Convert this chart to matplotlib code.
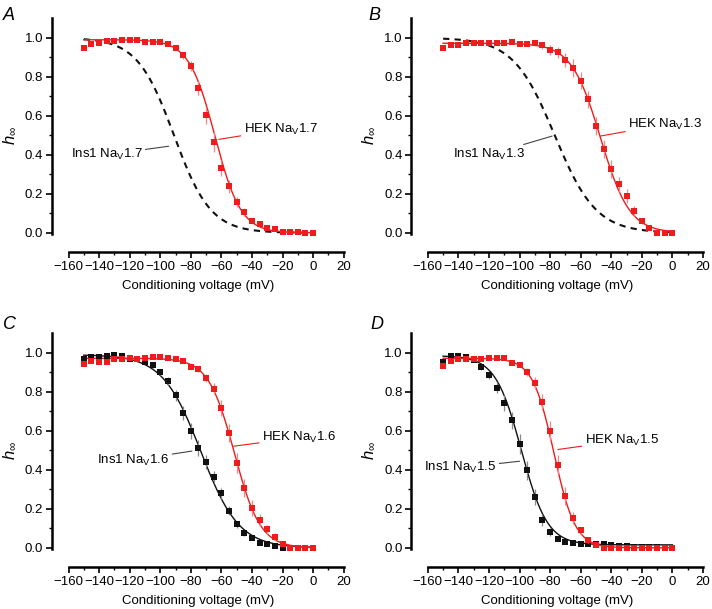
import numpy as np
import matplotlib
matplotlib.use('Agg')
import matplotlib.pyplot as plt
from matplotlib.ticker import FixedLocator

plt.rcParams['font.family'] = ['Liberation Sans', 'DejaVu Sans']
plt.rcParams['mathtext.fontset'] = 'custom'
plt.rcParams['mathtext.rm'] = 'Liberation Sans'
plt.rcParams['mathtext.it'] = 'Liberation Sans:italic'

# conditioning voltages (mV)
volts = [-150, -145, -140, -135, -130, -125, -120, -115, -110, -105, -100,
         -95, -90, -85, -80, -75, -70, -65, -60, -55, -50,
         -45, -40, -35, -30, -25, -20, -15, -10, -5, 0]

# Panel A - HEK Nav1.7
hek17 = [0.949, 0.966, 0.974, 0.983, 0.983, 0.988, 0.988, 0.991, 0.979, 0.981, 0.978,
         0.969, 0.949, 0.911, 0.856, 0.744, 0.602, 0.465, 0.333, 0.238, 0.157,
         0.106, 0.063, 0.046, 0.024, 0.017, 0.005, 0.005, 0.005, 0.0, 0.0]
hek17_err = [0.006, 0.006, 0.006, 0.005, 0.005, 0.005, 0.005, 0.005, 0.005, 0.006, 0.006,
             0.008, 0.012, 0.018, 0.025, 0.035, 0.045, 0.05, 0.04, 0.035, 0.025,
             0.02, 0.014, 0.01, 0.008, 0.006, 0.005, 0.005, 0.004, 0.004, 0.004]
# Panel B - HEK Nav1.3
hek13 = [0.949, 0.961, 0.961, 0.974, 0.974, 0.973, 0.973, 0.973, 0.973, 0.976, 0.966,
         0.966, 0.971, 0.961, 0.937, 0.926, 0.885, 0.846, 0.781, 0.684, 0.547,
         0.431, 0.328, 0.248, 0.188, 0.111, 0.060, 0.026, 0.0, 0.0, 0.0]
hek13_err = [0.012, 0.01, 0.01, 0.008, 0.008, 0.008, 0.008, 0.008, 0.008, 0.008, 0.01,
             0.01, 0.012, 0.02, 0.025, 0.028, 0.035, 0.045, 0.045, 0.045, 0.045,
             0.045, 0.045, 0.04, 0.035, 0.025, 0.015, 0.01, 0.005, 0.005, 0.005]
# Panel C - Nav1.6
hek16 = [0.944, 0.957, 0.952, 0.952, 0.969, 0.969, 0.973, 0.969, 0.974, 0.978, 0.979,
         0.973, 0.966, 0.956, 0.928, 0.915, 0.872, 0.815, 0.718, 0.590, 0.436,
         0.308, 0.205, 0.145, 0.094, 0.056, 0.022, 0.0, 0.0, 0.0, 0.0]
hek16_err = [0.01, 0.008, 0.008, 0.008, 0.006, 0.006, 0.006, 0.006, 0.006, 0.006, 0.006,
             0.008, 0.008, 0.01, 0.012, 0.015, 0.02, 0.028, 0.04, 0.045, 0.05,
             0.045, 0.04, 0.03, 0.025, 0.02, 0.012, 0.005, 0.004, 0.004, 0.004]
ins16 = [0.966, 0.979, 0.979, 0.986, 0.988, 0.983, 0.969, 0.966, 0.952, 0.935, 0.901,
         0.856, 0.783, 0.692, 0.598, 0.513, 0.439, 0.364, 0.279, 0.191, 0.120,
         0.074, 0.048, 0.026, 0.017, 0.009, 0.0, 0.0, 0.0, 0.0, 0.0]
ins16_err = [0.006, 0.006, 0.006, 0.005, 0.005, 0.006, 0.006, 0.008, 0.01, 0.012, 0.015,
             0.02, 0.028, 0.035, 0.04, 0.04, 0.035, 0.032, 0.03, 0.025, 0.018,
             0.012, 0.01, 0.008, 0.006, 0.005, 0.005, 0.004, 0.004, 0.004, 0.004]
# Panel D - Nav1.5
hek15 = [0.932, 0.957, 0.966, 0.966, 0.969, 0.969, 0.974, 0.971, 0.971, 0.949, 0.940,
         0.901, 0.846, 0.747, 0.598, 0.427, 0.265, 0.154, 0.089, 0.039, 0.012,
         0.0, 0.0, 0.0, 0.0, 0.0, 0.0, 0.0, 0.0, 0.0, 0.0]
hek15_err = [0.012, 0.01, 0.008, 0.008, 0.008, 0.006, 0.006, 0.006, 0.008, 0.01, 0.012,
             0.02, 0.03, 0.04, 0.05, 0.05, 0.045, 0.03, 0.02, 0.012, 0.008,
             0.005, 0.004, 0.004, 0.004, 0.004, 0.004, 0.004, 0.004, 0.004, 0.004]
ins15 = [0.952, 0.986, 0.986, 0.979, 0.961, 0.926, 0.884, 0.821, 0.744, 0.653, 0.533,
         0.397, 0.262, 0.142, 0.082, 0.046, 0.031, 0.026, 0.021, 0.017, 0.017,
         0.017, 0.014, 0.009, 0.009, 0.006, 0.006, 0.006, 0.004, 0.0, 0.0]
ins15_err = [0.008, 0.006, 0.006, 0.008, 0.01, 0.014, 0.02, 0.028, 0.04, 0.045, 0.05,
             0.05, 0.04, 0.03, 0.02, 0.012, 0.008, 0.006, 0.005, 0.005, 0.005,
             0.005, 0.005, 0.004, 0.004, 0.004, 0.004, 0.004, 0.004, 0.004, 0.004]

# Boltzmann fit parameters: (V1/2, k, top, bottom)
fit_hek17 = (-64.2, 8.5, 0.99, 0.0)
fit_ins17 = (-91.0, 12.0, 1.0, 0.0)
fit_hek13 = (-47.0, 9.5, 0.972, 0.0)
fit_ins13 = (-77.0, 13.5, 1.0, 0.0)
fit_hek16 = (-51.5, 8.5, 0.972, 0.0)
fit_ins16 = (-73.5, 12.5, 0.99, 0.0)
fit_hek15 = (-77.5, 7.0, 0.972, 0.0)
fit_ins15 = (-98.8, 8.5, 0.985, 0.015)


def boltz(v, p):
    vh, k, top, bot = p
    return bot + (top - bot) / (1 + np.exp((v - vh) / k))


vfit = np.linspace(-150, 0, 300)
RED = '#ee1c1c'
RED_ERR = '#f08a8a'
BLK = '#111111'
BLK_ERR = '#8a8a8a'

fig = plt.figure(figsize=(7.12, 6.09), dpi=100)
W, H = 712.0, 609.0
ax_px = [(51.7, 18.3), (411.0, 18.3), (51.7, 333.3), (411.0, 333.3)]
axes = []
for (lx, ty) in ax_px:
    ax = fig.add_axes([lx / W, 1 - (ty + 234) / H, 292 / W, 234 / H])
    axes.append(ax)


def style(ax):
    ax.set_xlim(-171, 20)
    ax.set_ylim(-0.1, 1.1)
    for s in ['top', 'right']:
        ax.spines[s].set_visible(False)
    ax.spines['left'].set_linewidth(1.8)
    ax.spines['bottom'].set_linewidth(1.8)
    ax.spines['left'].set_bounds(-0.005, 1.1)
    ax.spines['bottom'].set_bounds(-160, 20)
    ax.set_yticks([0, 0.2, 0.4, 0.6, 0.8, 1.0])
    ax.set_yticklabels(['0.0', '0.2', '0.4', '0.6', '0.8', '1.0'])
    ax.yaxis.set_minor_locator(FixedLocator([0.1, 0.3, 0.5, 0.7, 0.9]))
    ax.set_xticks(range(-160, 21, 20))
    ax.set_xticklabels(['\u2212160', '\u2212140', '\u2212120', '\u2212100', '\u221280',
                        '\u221260', '\u221240', '\u221220', '0', '20'])
    ax.xaxis.set_minor_locator(FixedLocator(range(-150, 20, 20)))
    ax.tick_params(which='major', direction='out', length=4, width=1.2, labelsize=9.5, pad=2)
    ax.tick_params(which='minor', direction='out', length=2.5, width=1.0)
    ax.set_xlabel('Conditioning voltage (mV)', fontsize=9.5, labelpad=5)
    ax.set_ylabel(r'$h_\infty$', fontsize=12, labelpad=5)
    ax.patch.set_visible(False)


def data(ax, y, err, color, ecolor, z):
    ax.errorbar(volts, y, yerr=err, fmt='s', color=color, ecolor=ecolor,
                elinewidth=0.9, capsize=2, capthick=0.9, markersize=4.3,
                markeredgewidth=0, zorder=z)


def label(ax, text, xy, xytext, color):
    ax.annotate(text, xy=xy, xytext=xytext, fontsize=9.5, color='black',
                va='center', ha='left' if xytext[0] > xy[0] else 'right',
                arrowprops=dict(arrowstyle='-', color=color, lw=0.8,
                                shrinkA=0, shrinkB=0))


# A
ax = axes[0]
style(ax)
ax.plot(vfit, boltz(vfit, fit_ins17), color=BLK, lw=1.5, ls=(0, (3, 2.5)), zorder=2)
ax.plot(vfit, boltz(vfit, fit_hek17), color=RED, lw=1.0, zorder=3)
data(ax, hek17, hek17_err, RED, RED_ERR, 4)
label(ax, r'HEK Na$_\mathregular{V}$1.7', (-61.8, 0.479), (-45.5, 0.53), RED)
label(ax, r'Ins1 Na$_\mathregular{V}$1.7', (-94.5, 0.444), (-111.5, 0.40), '#444444')

# B
ax = axes[1]
style(ax)
ax.plot(vfit, boltz(vfit, fit_ins13), color=BLK, lw=1.5, ls=(0, (3, 2.5)), zorder=2)
ax.plot(vfit, boltz(vfit, fit_hek13), color=RED, lw=1.0, zorder=3)
data(ax, hek13, hek13_err, RED, RED_ERR, 4)
label(ax, r'HEK Na$_\mathregular{V}$1.3', (-47.2, 0.496), (-29.0, 0.556), RED)
label(ax, r'Ins1 Na$_\mathregular{V}$1.3', (-78.7, 0.496), (-96.5, 0.40), '#444444')

# C
ax = axes[2]
style(ax)
ax.plot(vfit, boltz(vfit, fit_ins16), color=BLK, lw=1.0, zorder=2)
ax.plot(vfit, boltz(vfit, fit_hek16), color=RED, lw=1.0, zorder=3)
data(ax, ins16, ins16_err, BLK, BLK_ERR, 4)
data(ax, hek16, hek16_err, RED, RED_ERR, 5)
label(ax, r'HEK Na$_\mathregular{V}$1.6', (-52.0, 0.521), (-33.5, 0.565), RED)
label(ax, r'Ins1 Na$_\mathregular{V}$1.6', (-79.3, 0.496), (-94.0, 0.45), '#444444')

# D
ax = axes[3]
style(ax)
ax.plot(vfit, boltz(vfit, fit_ins15), color=BLK, lw=1.0, zorder=2)
ax.plot(vfit, boltz(vfit, fit_hek15), color=RED, lw=1.0, zorder=3)
data(ax, ins15, ins15_err, BLK, BLK_ERR, 4)
data(ax, hek15, hek15_err, RED, RED_ERR, 5)
label(ax, r'HEK Na$_\mathregular{V}$1.5', (-74.9, 0.504), (-57.5, 0.55), RED)
label(ax, r'Ins1 Na$_\mathregular{V}$1.5', (-100.0, 0.444), (-115.0, 0.41), '#444444')

for t, (x, y) in zip(['A', 'B', 'C', 'D'], [(3, 7), (368, 7), (3, 316), (370, 316)]):
    fig.text(x / W, 1 - y / H, t, fontsize=13, style='italic', va='top', ha='left')

fig.savefig('out.png', dpi=100)
